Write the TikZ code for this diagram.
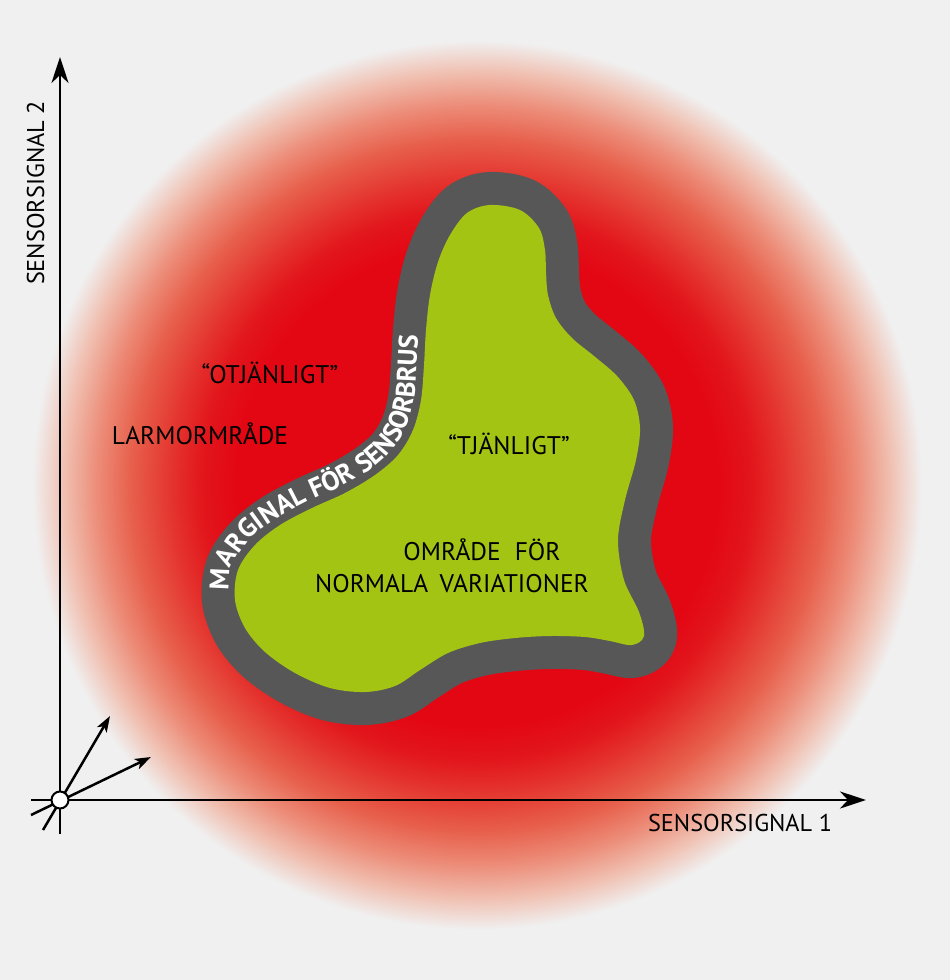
\documentclass[tikz,border=0pt]{standalone}
\usepackage{fontspec}
\setmainfont{PT Sans}
\usetikzlibrary{arrows.meta,decorations.text}
\definecolor{bgc}{HTML}{F0F0F0}
\definecolor{glowred}{HTML}{E30613}
\definecolor{glowa}{RGB}{226,22,28}
\definecolor{glowb}{RGB}{228,50,45}
\definecolor{glowc}{RGB}{231,95,75}
\definecolor{glowd}{RGB}{236,140,120}
\definecolor{glowe}{RGB}{240,190,175}
\definecolor{blobgreen}{HTML}{A4C414}
\definecolor{bandgray}{HTML}{575757}
\pgfdeclareradialshading{redglow}{\pgfpoint{0bp}{0bp}}{%
  color(0bp)=(glowred); color(13.3bp)=(glowred); color(15.3bp)=(glowa);
  color(16.9bp)=(glowb); color(19.2bp)=(glowc);
  color(21.1bp)=(glowd); color(22.9bp)=(glowe);
  color(24.7bp)=(bgc); color(50bp)=(bgc)}
\tikzset{
  lbl/.style={font=\fontsize{25.5}{27}\selectfont, text=black, inner sep=0pt, anchor=base},
  axlbl/.style={font=\fontsize{24.3}{26}\selectfont, text=black, inner sep=0pt, anchor=base},
  axis/.style={line width=2.8pt, -{Stealth[length=26pt,width=17pt,inset=8pt]}},
  vec/.style={line width=2.5pt, -{Stealth[length=16pt,width=11pt,inset=4pt]}},
}
\begin{document}
\begin{tikzpicture}[x=1pt,y=-1pt]
\useasboundingbox (0,0) rectangle (950,980);
\fill[bgc] (0,0) rectangle (950,980);
% red glow
\shade[shading=redglow] (477,485) circle (450);
% blob with noise margin
\path[fill=blobgreen, preaction={draw=bandgray, line width=66pt, line join=round}]
  plot[smooth cycle, tension=0.55] coordinates {
  (467,213) (490,205) (520,210) (539,228) (545,250) (546,272) (548,295)
  (556,318) (572,338) (594,356) (617,376) (634,400) (640,428) (636,460)
  (625,500) (618,540) (624,580) (639,612) (644,636) (632,645) (610,641)
  (585,637) (550,636) (515,638) (480,643) (448,653) (420,670) (395,686)
  (365,692) (330,688) (295,673) (265,652) (245,628) (235,600) (238,570)
  (255,545) (280,525) (312,508) (345,493) (375,475) (398,455) (413,430)
  (421,400) (424,365) (426,330) (430,295) (438,262) (450,235)};
% rounding of the outer corner at the right of the neck
\fill[bandgray] (579.5,282) .. controls (580,302) .. (594,314) -- (570,305) -- cycle;
% curved label
\path[decorate, decoration={text along path,
    text={|\bfseries\fontsize{27}{27}\selectfont|MARGINAL FÖR SENSORBRUS},
    text color=white, text align=left}]
  plot[smooth, tension=0.55] coordinates {
  (229,590) (231,567) (250,539) (276,519) (309,501) (342,486) (371,469)
  (392,450) (406,427) (414,399) (416.5,365) (418.5,330) (422.5,296)};
% texts
\node[lbl] (otj) at (270,383) {“OTJÄNLIGT”};
\node[lbl] (larm) at (200,444) {LARMORMRÅDE};
\node[lbl] (tj) at (509,454) {“TJÄNLIGT”};
\node[lbl] (omr) at (482,560) {OMRÅDE\hspace{0.55em}FÖR};
\node[lbl] (norm) at (452,592) {NORMALA\hspace{0.45em}VARIATIONER};
\node[axlbl] (s1) at (740,831) {SENSORSIGNAL 1};
\node[axlbl, rotate=90] (s2) at (44,193) {SENSORSIGNAL 2};
% axes
\coordinate (ybot) at (60,834);
\coordinate (ytip) at (60,57);
\coordinate (xleft) at (31,800);
\coordinate (xtip) at (866,800);
\draw[axis] (ybot) -- (ytip);
\draw[axis] (xleft) -- (xtip);
% vectors
\coordinate (a1s) at (43,830);
\coordinate (a1e) at (110,716);
\coordinate (a2s) at (31,815);
\coordinate (a2e) at (151,757);
\draw[vec] (a1s) -- (a1e);
\draw[vec] (a2s) -- (a2e);
\node[circle, draw=black, line width=2pt, fill=white, minimum size=17pt, inner sep=0pt] (origin) at (60,800) {};
\end{tikzpicture}
\end{document}
